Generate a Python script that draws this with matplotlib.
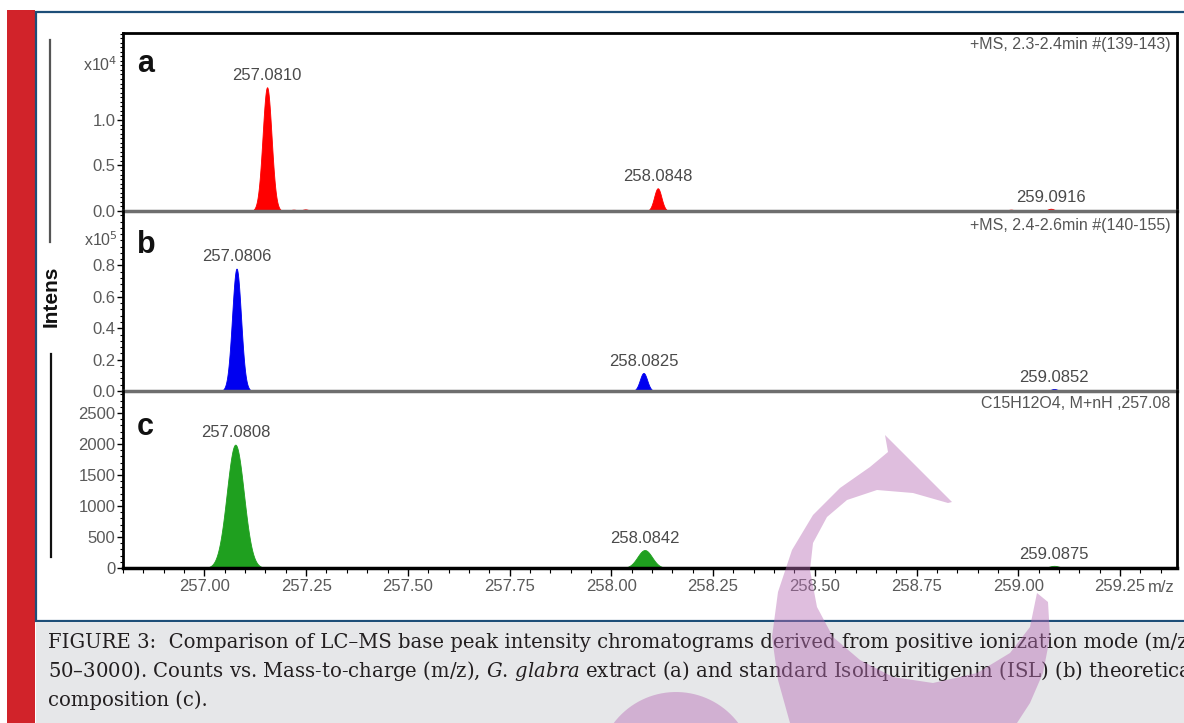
import numpy as np
import matplotlib
matplotlib.use("Agg")
import matplotlib.pyplot as plt
from matplotlib.patches import Rectangle, Polygon
from matplotlib.lines import Line2D
from matplotlib.ticker import MultipleLocator, FixedLocator, FuncFormatter

W, H = 1184, 723

# peak lists: centre (m/z), height (counts), width (sigma, m/z)
a_centers = [257.154, 257.219, 257.248, 258.114, 258.982, 259.080]
a_heights = [13600, 150, 180, 2500, 150, 250]
a_sigmas = [0.011, 0.008, 0.008, 0.009, 0.008, 0.008]
a_labels = ["257.0810", None, None, "258.0848", None, "259.0916"]

b_centers = [257.079, 258.079, 259.088]
b_heights = [78000, 11500, 1300]
b_sigmas = [0.011, 0.009, 0.008]
b_labels = ["257.0806", "258.0825", "259.0852"]

c_centers = [257.076, 258.082, 259.088]
c_heights = [1990, 290, 35]
c_sigmas = [0.021, 0.018, 0.012]
c_labels = ["257.0808", "258.0842", "259.0875"]

panel_names = ["a", "b", "c"]
panel_info = ["+MS, 2.3-2.4min #(139-143)", "+MS, 2.4-2.6min #(140-155)",
              "C15H12O4, M+nH ,257.08"]
panel_colors = ["#ff0000", "#0000f0", "#1fa01f"]
panel_ymax = [19560, 114700, 2855]
a_yticks = [0, 5000, 10000]
b_yticks = [0, 20000, 40000, 60000, 80000]
c_yticks = [0, 500, 1000, 1500, 2000, 2500]

caption_1 = "FIGURE 3:  Comparison of LC\u2013MS base peak intensity chromatograms derived from positive ionization mode (m/z"
caption_2 = ("50\u20133000). Counts vs. Mass-to-charge (m/z), $\\mathit{G.\\,glabra}$ extract (a) and "
             "standard Isoliquiritigenin (ISL) (b) theoretical")
caption_3 = "composition (c)."

XMIN, XMAX = 256.80, 259.39
SANS = ["Liberation Sans", "DejaVu Sans"]

# outline of the pink watermark, in picture pixels
mark_outer = [(885, 435), (888, 452), (870, 467), (840, 488), (813, 515), (792, 550),
              (778, 592), (772, 637), (778, 680), (790, 723), (800, 750), (1000, 750),
              (1017, 723), (1030, 703), (1043, 673), (1050, 637), (1048, 602), (1037, 593)]
mark_inner = [(1030, 627), (1010, 653), (977, 673), (933, 683), (893, 677), (860, 660),
              (833, 637), (817, 607), (810, 570), (813, 543), (827, 517), (847, 500),
              (877, 490), (913, 493), (948, 503), (952, 502)]


def fx(px):
    return px / W


def fy(py):
    return 1 - py / H


def profile(x, centers, heights, sigmas):
    y = np.zeros_like(x)
    for c, h, s in zip(centers, heights, sigmas):
        y += h * np.exp(-0.5 * ((x - c) / s) ** 2)
    return y


fig = plt.figure(figsize=(W / 100, H / 100), dpi=100)
fig.patch.set_facecolor("white")

# page decoration: red side bar, framed white panel, grey caption box
fig.patches.append(Rectangle((fx(7), 0), fx(35) - fx(7), fy(10), transform=fig.transFigure,
                             facecolor="#d1232a", edgecolor="none", zorder=-10))
fig.patches.append(Rectangle((fx(36), fy(621)), fx(1200) - fx(36), fy(12) - fy(621),
                             transform=fig.transFigure, facecolor="white",
                             edgecolor="#1d4e78", linewidth=1.6, zorder=-10))
fig.patches.append(Rectangle((fx(36), 0), fx(1190) - fx(36), fy(622),
                             transform=fig.transFigure, facecolor="#e6e7e9",
                             edgecolor="none", zorder=-10))

tops = [33, 211, 391]
bottoms = [211, 391, 568]
all_centers = [a_centers, b_centers, c_centers]
all_heights = [a_heights, b_heights, c_heights]
all_sigmas = [a_sigmas, b_sigmas, c_sigmas]
all_labels = [a_labels, b_labels, c_labels]
letter_y = [0.781, 0.767, 0.751]
info_y = [0.938, 0.922, 0.932]

x = np.linspace(XMIN, XMAX, 6000)
axes = []
for i in range(3):
    ax = fig.add_axes([fx(123), fy(bottoms[i]), fx(1177) - fx(123), (bottoms[i] - tops[i]) / H])
    ax.set_facecolor("none")
    y = profile(x, all_centers[i], all_heights[i], all_sigmas[i])
    ax.fill_between(x, 0, y, color=panel_colors[i], linewidth=0.6, zorder=2)
    ax.set_xlim(XMIN, XMAX)
    ax.set_ylim(0, panel_ymax[i])

    for c, h, lab in zip(all_centers[i], all_heights[i], all_labels[i]):
        if lab:
            ax.annotate(lab, (c, h), xytext=(0, 3), textcoords="offset points",
                        ha="center", va="bottom", fontsize=12, color="#4a4a4a", family=SANS)

    ax.text(0.0133, letter_y[i], panel_names[i], transform=ax.transAxes, fontsize=22,
            fontweight="bold", family=SANS, color="#111111", ha="left", va="baseline")
    ax.text(0.9935, info_y[i], panel_info[i], transform=ax.transAxes, fontsize=11.5,
            family=SANS, color="#555555", ha="right", va="center")

    for side in ["left", "right", "top", "bottom"]:
        ax.spines[side].set_color("black")
        ax.spines[side].set_linewidth(2)
    ax.spines["bottom"].set_color("#6e6e6e")
    ax.spines["bottom"].set_linewidth(2.5)
    if i > 0:
        ax.spines["top"].set_visible(False)

    ax.tick_params(axis="y", which="both", direction="out", colors="black",
                   labelcolor="#5a5a5a", labelsize=12, pad=1.5)
    ax.tick_params(axis="y", which="major", length=4, width=1)
    ax.tick_params(axis="y", which="minor", length=2.5, width=0.8)
    axes.append(ax)

axA, axB, axC = axes

axA.yaxis.set_major_locator(FixedLocator(a_yticks))
axA.yaxis.set_minor_locator(MultipleLocator(500))
axA.yaxis.set_major_formatter(FuncFormatter(lambda v, p: f"{v / 1e4:.1f}"))
axB.yaxis.set_major_locator(FixedLocator(b_yticks))
axB.yaxis.set_minor_locator(MultipleLocator(4000))
axB.yaxis.set_major_formatter(FuncFormatter(lambda v, p: f"{v / 1e5:.1f}"))
axC.yaxis.set_major_locator(FixedLocator(c_yticks))
axC.yaxis.set_minor_locator(MultipleLocator(100))
axC.yaxis.set_major_formatter(FuncFormatter(lambda v, p: f"{v:.0f}"))

for ax in (axA, axB):
    ax.tick_params(axis="x", which="both", bottom=False, labelbottom=False)

axC.spines["bottom"].set_color("black")
axC.xaxis.set_major_locator(MultipleLocator(0.25))
axC.xaxis.set_minor_locator(MultipleLocator(0.05))
axC.xaxis.set_major_formatter(FuncFormatter(lambda v, p: f"{v:.2f}"))
axC.tick_params(axis="x", which="both", direction="out", colors="black",
                labelcolor="#5a5a5a", labelsize=12, pad=2)
axC.tick_params(axis="x", which="major", length=6, width=1)
axC.tick_params(axis="x", which="minor", length=3.5, width=0.8)
for t in axC.get_xticklabels():
    t.set_family(SANS)
for ax in axes:
    for t in ax.get_yticklabels():
        t.set_family(SANS)

fig.text(fx(1148), fy(587), "m/z", fontsize=12, color="#5a5a5a", family=SANS,
         ha="left", va="center")

# exponent labels
for ax, txt, yy in [(axA, "x10$^4$", 0.82), (axB, "x10$^5$", 0.839)]:
    ax.text(-0.005, yy, txt, transform=ax.transAxes, fontsize=11.5, color="#555555",
            family=SANS, ha="right", va="center", math_fontfamily="dejavusans")

# "Intens" axis title with rules above and below
fig.text(fx(51), fy(296), "Intens", rotation=90, fontsize=15, fontweight="bold",
         family=SANS, ha="center", va="center", color="#111111")
fig.lines.append(Line2D([fx(50), fx(50)], [fy(40), fy(242)], transform=fig.transFigure,
                        color="#555555", linewidth=1.6))
fig.lines.append(Line2D([fx(51), fx(51)], [fy(354), fy(557)], transform=fig.transFigure,
                        color="#111111", linewidth=1.6))

# caption (runs past the right edge, as in the source page)
for yy, txt in [(648, caption_1), (677, caption_2), (706, caption_3)]:
    fig.text(fx(48), fy(yy), txt, fontsize=14.1, family="DejaVu Serif", color="#231f20",
             ha="left", va="baseline", math_fontfamily="dejavuserif")

# translucent watermark shapes drawn over everything
pts = mark_outer + mark_inner
fig.patches.append(Polygon([(fx(p), fy(q)) for p, q in pts], closed=True,
                           transform=fig.transFigure, facecolor="#b86fb6", alpha=0.45,
                           edgecolor="none", zorder=10))
blob_t = np.radians(np.linspace(0, 180, 60))
blob = [(676 + 78 * np.cos(t), 770 - 78 * np.sin(t)) for t in blob_t]
fig.patches.append(Polygon([(fx(p), fy(q)) for p, q in blob], closed=True,
                           transform=fig.transFigure, facecolor="#b86fb6", alpha=0.45,
                           edgecolor="none", zorder=10))

fig.savefig("out.png", dpi=100)
